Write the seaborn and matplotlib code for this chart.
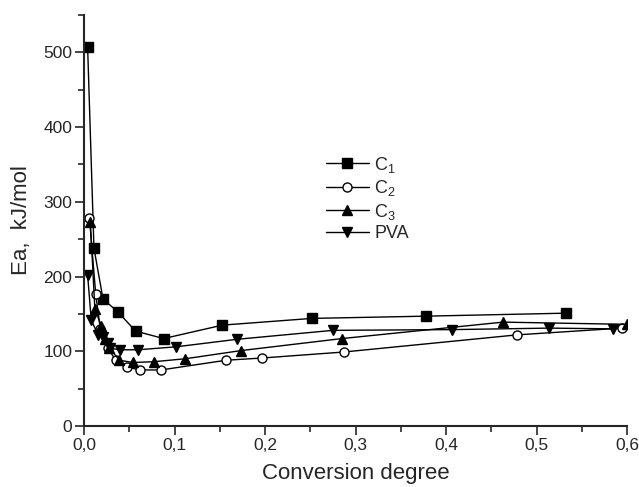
import numpy as np
import pandas as pd
import matplotlib
matplotlib.use("Agg")
import matplotlib.pyplot as plt
import seaborn as sns
from matplotlib.ticker import MultipleLocator, FuncFormatter

c1_x = [0.004, 0.011, 0.021, 0.038, 0.057, 0.088, 0.153, 0.252, 0.378, 0.533]
c1_y = [507, 238, 170, 152, 127, 117, 135, 144, 147, 151]

c2_x = [0.006, 0.013, 0.018, 0.026, 0.035, 0.047, 0.062, 0.085, 0.157, 0.197, 0.287, 0.479, 0.594]
c2_y = [278, 176, 130, 105, 88, 79, 75, 75, 88, 91, 99, 122, 131]

c3_x = [0.007, 0.012, 0.019, 0.023, 0.028, 0.039, 0.054, 0.077, 0.112, 0.174, 0.285, 0.463, 0.600]
c3_y = [273, 157, 134, 117, 105, 88, 85, 86, 90, 101, 117, 139, 136]

pva_x = [0.004, 0.008, 0.0155, 0.021, 0.026, 0.029, 0.040, 0.060, 0.102, 0.169, 0.275, 0.407, 0.514, 0.585]
pva_y = [202, 142, 122, 119, 111, 104, 102, 102, 106, 116, 128, 129, 131, 130]

labels = [r"C$_\mathregular{1}$", r"C$_\mathregular{2}$", r"C$_\mathregular{3}$", "PVA"]

sns.set_style("ticks")
plt.rcParams["font.family"] = ["Liberation Sans", "DejaVu Sans"]
plt.rcParams["mathtext.fontset"] = "custom"
plt.rcParams["mathtext.rm"] = "Liberation Sans"

fig = plt.figure(figsize=(6.39, 4.87), dpi=100)
ax = fig.add_axes([84 / 639, 61 / 487, 543 / 639, 411 / 487])

series = [
    (c1_x, c1_y, "s", "black"),
    (c2_x, c2_y, "o", "white"),
    (c3_x, c3_y, "^", "black"),
    (pva_x, pva_y, "v", "black"),
]
for (xs, ys, mk, fc), lab in zip(series, labels):
    sns.lineplot(x=xs, y=ys, ax=ax, color="black", linewidth=1.0, marker=mk,
                 markersize=6.5, markerfacecolor=fc, markeredgecolor="black",
                 markeredgewidth=1.0, label=lab, sort=False)

ax.set_xlim(0, 0.6)
ax.set_ylim(0, 550)
ax.xaxis.set_major_locator(MultipleLocator(0.1))
ax.xaxis.set_minor_locator(MultipleLocator(0.05))
ax.yaxis.set_major_locator(MultipleLocator(100))
ax.yaxis.set_minor_locator(MultipleLocator(50))
ax.xaxis.set_major_formatter(FuncFormatter(lambda v, p: f"{v:.1f}".replace(".", ",")))
ax.tick_params(axis="both", which="major", length=6.5, width=1.2, labelsize=12.5,
               direction="out", pad=2)
ax.tick_params(axis="both", which="minor", length=4, width=1.2, direction="out")
for s in ["top", "right"]:
    ax.spines[s].set_visible(False)
for s in ["left", "bottom"]:
    ax.spines[s].set_linewidth(1.5)

ax.set_xlabel("Conversion degree", fontsize=16, labelpad=7)
ax.set_ylabel("Ea,  kJ/mol", fontsize=16, labelpad=8)

leg = ax.legend(loc="upper left", bbox_to_anchor=(0.415, 0.70), frameon=False,
                fontsize=13, handlelength=2.4, handletextpad=0.3, labelspacing=0.2)

fig.savefig("out.png", dpi=100)
